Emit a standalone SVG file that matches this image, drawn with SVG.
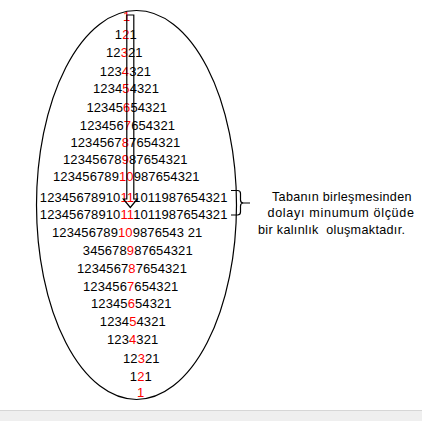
<svg xmlns="http://www.w3.org/2000/svg" width="422" height="421" viewBox="0 0 422 421">
<style>
.row{font-family:"Liberation Sans",Arial,sans-serif;font-size:13px;letter-spacing:0.1px;fill:#000}
.r{fill:#ff0000}
.lbl{font-family:"Liberation Sans",Arial,sans-serif;font-size:12.6px;fill:#000}
.ln{fill:none;stroke:#000;stroke-width:1.2}
</style>
<rect x="0" y="0" width="422" height="421" fill="#fff"/>
<rect x="0" y="410" width="422" height="11" fill="#efefef"/>
<line x1="0" y1="410.5" x2="422" y2="410.5" stroke="#d6d6d6" stroke-width="1"/>
<g id="ellipse">
<ellipse cx="136.5" cy="205" rx="100" ry="194.5" class="ln"/>
</g>
<g id="rows">
<text class="row" x="123" y="21"><tspan class="r">1</tspan></text>
<text class="row" x="114.8" y="39">1<tspan class="r">2</tspan>1</text>
<text class="row" x="106" y="57.3">12<tspan class="r">3</tspan>21</text>
<text class="row" x="99.8" y="75.7">123<tspan class="r">4</tspan>321</text>
<text class="row" x="93" y="93.3">1234<tspan class="r">5</tspan>4321</text>
<text class="row" x="86.4" y="111.7">12345<tspan class="r">6</tspan>54321</text>
<text class="row" x="79.8" y="129.5">123456<tspan class="r">7</tspan>654321</text>
<text class="row" x="70.4" y="146.7">1234567<tspan class="r">8</tspan>7654321</text>
<text class="row" x="63" y="163.5">12345678<tspan class="r">9</tspan>87654321</text>
<text class="row" x="53" y="181">123456789<tspan class="r">10</tspan>987654321</text>
<text class="row" x="39.8" y="201.7">12345678910<tspan class="r">11</tspan>1011987654321</text>
<text class="row" x="39.8" y="219.3">12345678910<tspan class="r">11</tspan>1011987654321</text>
<text class="row" x="52" y="237.3">123456789<tspan class="r">10</tspan>9876543 21</text>
<text class="row" x="82.8" y="255">345678<tspan class="r">9</tspan>87654321</text>
<text class="row" x="77" y="272.5">1234567<tspan class="r">8</tspan>7654321</text>
<text class="row" x="83" y="290.7">123456<tspan class="r">7</tspan>654321</text>
<text class="row" x="91" y="308.3">12345<tspan class="r">6</tspan>54321</text>
<text class="row" x="99.8" y="326">1234<tspan class="r">5</tspan>4321</text>
<text class="row" x="107" y="344.3">123<tspan class="r">4</tspan>321</text>
<text class="row" x="123" y="362.7">12<tspan class="r">3</tspan>21</text>
<text class="row" x="129.8" y="380.7">1<tspan class="r">2</tspan>1</text>
<text class="row" x="137" y="397.3"><tspan class="r">1</tspan></text>
</g>
<g id="label">
<text class="lbl" x="272" y="200.5" textLength="139.5" lengthAdjust="spacing">Tabanın birleşmesinden</text>
<text class="lbl" x="267.5" y="217" textLength="146.5" lengthAdjust="spacing">dolayı minumum ölçüde</text>
<text class="lbl" x="258" y="233.5" textLength="147" lengthAdjust="spacing" xml:space="preserve">bir kalınlık  oluşmaktadır.</text>
</g>
<g id="connectors">
<path class="ln" d="M126.8,15 H133.8 V199 H137.3 L130.3,207.5 L123.3,199 H126.8 Z"/>
<path class="ln" stroke-width="1" d="M231,190.5 H237.5 Q240.5,190.5 240.5,193.5 V200 Q240.5,203 243.5,203 H250 M243.5,203 Q240.5,203 240.5,206 V212 Q240.5,215 237.5,215 H231"/>
</g>
</svg>
